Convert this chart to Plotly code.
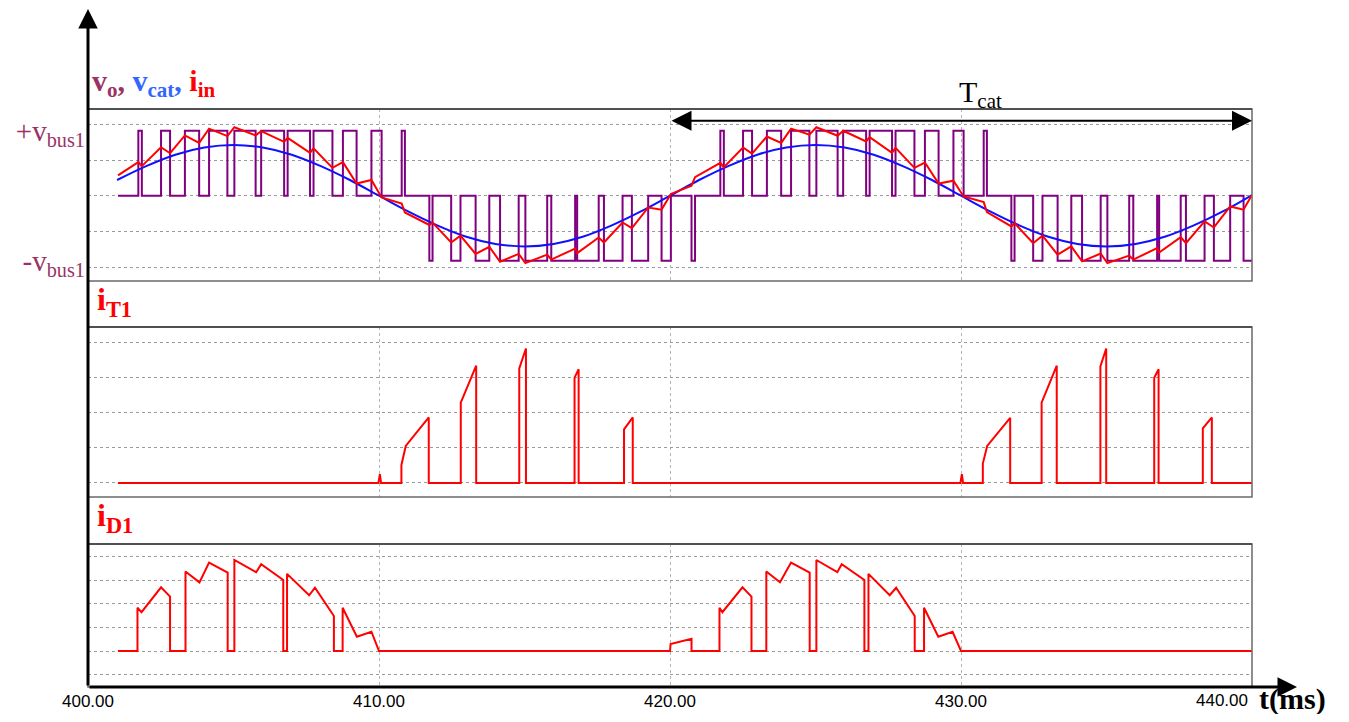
import plotly.graph_objects as go

# ---------------- data ----------------
# switching instants of v_o (ms) and the level after each switch (-1, 0, +1 in units of v_bus1)
vo_t = [401.03,
        401.73, 401.85, 402.51, 402.82, 403.33, 403.82, 404.16, 404.79, 405.03, 405.76,
        405.95, 406.74, 406.86, 407.63, 407.75, 408.40, 408.76, 409.23, 409.74, 410.09,
        410.78, 410.89,
        411.73, 411.84, 412.48, 412.80, 413.32, 413.79, 414.16, 414.80, 415.03, 415.78,
        415.92, 416.74, 416.81, 417.55, 417.73, 418.37, 418.69, 419.25, 419.71, 420.03,
        420.74, 420.86,
        421.73, 421.85, 422.51, 422.82, 423.33, 423.82, 424.16, 424.79, 425.03, 425.76,
        425.95, 426.74, 426.86, 427.63, 427.75, 428.40, 428.76, 429.23, 429.74, 430.09,
        430.78, 430.89,
        431.73, 431.84, 432.48, 432.80, 433.32, 433.79, 434.16, 434.80, 435.03, 435.78,
        435.92, 436.74, 436.81, 437.55, 437.73, 438.37, 438.69, 439.25, 439.71, 440.00]
vo_state = [0,
            1, 0, 1, 0, 1, 0, 1, 0, 1, 0,
            1, 0, 1, 0, 1, 0, 1, 0, 1, 0,
            1, 0,
            -1, 0, -1, 0, -1, 0, -1, 0, -1, 0,
            -1, 0, -1, 0, -1, 0, -1, 0, -1, 0,
            -1, 0,
            1, 0, 1, 0, 1, 0, 1, 0, 1, 0,
            1, 0, 1, 0, 1, 0, 1, 0, 1, 0,
            1, 0,
            -1, 0, -1, 0, -1, 0, -1, 0, -1, 0,
            -1, 0, -1, 0, -1, 0, -1, 0, -1, -1]
VBUS = 1.82  # +v_bus1 level on the panel-1 grid

# capacitor voltage v_cat (panel 1 grid units)
vcat_t = [401, 402, 403, 404, 405, 406, 407, 408, 409, 410,
          411, 412, 413, 414, 415, 416, 417, 418, 419, 420,
          421, 422, 423, 424, 425, 426, 427, 428, 429, 430,
          431, 432, 433, 434, 435, 436, 437, 438, 439, 440]
vcat = [0.44, 0.83, 1.15, 1.35, 1.42, 1.35, 1.15, 0.83, 0.44, 0.00,
        -0.44, -0.83, -1.15, -1.35, -1.42, -1.35, -1.15, -0.83, -0.44, 0.00,
        0.44, 0.83, 1.15, 1.35, 1.42, 1.35, 1.15, 0.83, 0.44, 0.00,
        -0.44, -0.83, -1.15, -1.35, -1.42, -1.35, -1.15, -0.83, -0.44, 0.02]

# input current i_in (panel 1 grid units)
iin_t = [401.03,
         401.73, 401.85, 402.51, 402.82, 403.33, 403.82, 404.16, 404.79, 405.03, 405.76,
         405.95, 406.74, 406.86, 407.63, 407.75, 408.40, 408.76, 409.23, 409.74, 410.09,
         410.78, 410.89,
         411.73, 411.84, 412.48, 412.80, 413.32, 413.79, 414.16, 414.80, 415.03, 415.78,
         415.92, 416.74, 416.81, 417.55, 417.73, 418.37, 418.69, 419.25, 419.71, 420.03,
         420.74, 420.86,
         421.73, 421.85, 422.51, 422.82, 423.33, 423.82, 424.16, 424.79, 425.03, 425.76,
         425.95, 426.74, 426.86, 427.63, 427.75, 428.40, 428.76, 429.23, 429.74, 430.09,
         430.78, 430.89,
         431.73, 431.84, 432.48, 432.80, 433.32, 433.79, 434.16, 434.80, 435.03, 435.78,
         435.92, 436.74, 436.81, 437.55, 437.73, 438.37, 438.69, 439.25, 439.71, 440.00]
iin = [0.57,
       0.94, 0.83, 1.36, 1.19, 1.69, 1.48, 1.88, 1.67, 1.92, 1.69,
       1.81, 1.51, 1.62, 1.20, 1.33, 0.78, 0.94, 0.34, 0.44, -0.05,
       -0.22, -0.47,
       -0.82, -0.75, -1.31, -1.12, -1.63, -1.43, -1.85, -1.63, -1.89, -1.65,
       -1.79, -1.48, -1.61, -1.17, -1.31, -0.75, -0.91, -0.33, -0.39, 0.05,
       0.28, 0.52,
       0.92, 0.80, 1.35, 1.18, 1.66, 1.48, 1.88, 1.71, 1.92, 1.68,
       1.82, 1.52, 1.64, 1.20, 1.34, 0.78, 0.93, 0.34, 0.42, -0.02,
       -0.18, -0.46,
       -0.86, -0.77, -1.33, -1.12, -1.65, -1.42, -1.84, -1.62, -1.89, -1.68,
       -1.79, -1.47, -1.59, -1.16, -1.33, -0.72, -0.89, -0.30, -0.39, 0.03]

# switch current i_T1 (panel 2 grid units)
iT1_t = [401.03, 409.98, 410.03, 410.07,
         410.77, 410.77, 410.92, 411.71, 411.71,
         412.81, 412.81, 413.34, 413.34,
         414.82, 414.82, 415.05, 415.05,
         416.72, 416.72, 416.86, 416.86,
         418.42, 418.42, 418.72, 418.72,
         429.98, 430.03, 430.07,
         430.75, 430.75, 430.90, 431.69, 431.69,
         432.77, 432.77, 433.29, 433.29,
         434.79, 434.79, 434.99, 434.99,
         436.64, 436.64, 436.79, 436.79,
         438.31, 438.31, 438.62, 438.62,
         440.00]
iT1 = [0, 0, 0.25, 0,
       0, 0.51, 1.05, 1.86, 0,
       0, 2.28, 3.33, 0,
       0, 3.25, 3.82, 0,
       0, 2.99, 3.23, 0,
       0, 1.52, 1.86, 0,
       0, 0.25, 0,
       0, 0.55, 1.05, 1.85, 0,
       0, 2.28, 3.33, 0,
       0, 3.31, 3.82, 0,
       0, 2.99, 3.23, 0,
       0, 1.55, 1.86, 0,
       0]

# diode current i_D1 (panel 3 grid units)
iD1_t = [401.03, 401.70, 401.70, 401.84, 402.51, 402.82, 402.82,
         403.35, 403.35, 403.83, 404.16, 404.80, 404.80,
         405.03, 405.03, 405.78, 405.95, 406.71, 406.71,
         406.84, 406.84, 407.60, 407.80, 408.45, 408.45,
         408.75, 408.75, 409.24, 409.74, 410.00,
         420.00, 420.02, 420.74, 420.74,
         421.70, 421.70, 421.80, 422.49, 422.80, 422.80,
         423.31, 423.31, 423.78, 424.16, 424.80, 424.80,
         425.03, 425.03, 425.75, 425.90, 426.68, 426.68,
         426.82, 426.82, 427.55, 427.77, 428.41, 428.41,
         428.73, 428.73, 429.22, 429.71, 430.00,
         440.00]
iD1 = [0, 0, 1.84, 1.65, 2.71, 2.31, 0,
       0, 3.38, 2.92, 3.76, 3.33, 0,
       0, 3.87, 3.35, 3.69, 3.02, 0,
       0, 3.28, 2.37, 2.69, 1.49, 0,
       0, 1.84, 0.61, 0.82, 0,
       0, 0.30, 0.52, 0,
       0, 1.84, 1.65, 2.71, 2.31, 0,
       0, 3.38, 2.92, 3.76, 3.33, 0,
       0, 3.87, 3.35, 3.69, 3.02, 0,
       0, 3.28, 2.37, 2.69, 1.49, 0,
       0, 1.84, 0.61, 0.82, 0,
       0]

x_ticks = [400, 410, 420, 430]
x_ticklabels = ["400.00", "410.00", "420.00", "430.00"]
last_tick = 440
last_ticklabel = "440.00"

# ---------------- figure ----------------
# the page body has an 8 px margin, so the figure is drawn 8 px in from the window corner
OFF = 8
W, H = 1349 - 2 * OFF, 722 - 2 * OFF
AX_LEFT, AX_RIGHT, AX_BOTTOM, AX_TOP = 88, 1252, 687, 10   # window pixels of the plot area
ML = AX_LEFT - OFF
MR = W - (AX_RIGHT - OFF)
MT = AX_TOP - OFF
MB = H - (AX_BOTTOM - OFF)
PH = H - MT - MB
PW = W - ML - MR


def py(p):
    """window pixel row -> paper y"""
    return (AX_BOTTOM - p) / PH


def px(p):
    """window pixel column -> paper x"""
    return (p - AX_LEFT) / PW


PURPLE = "#800080"
BLUE = "#1010ff"
RED = "#ff0000"
LABEL = "#993366"
SERIF = "Liberation Serif, Times New Roman, serif"
SANS = "Liberation Sans, Arial, sans-serif"

fig = go.Figure()
fig.add_trace(go.Scatter(x=vo_t, y=[s * VBUS for s in vo_state], mode="lines",
                         line=dict(color=PURPLE, width=2, shape="hv"), yaxis="y"))
fig.add_trace(go.Scatter(x=vcat_t, y=vcat, mode="lines",
                         line=dict(color=BLUE, width=2, shape="spline", smoothing=1.0), yaxis="y"))
fig.add_trace(go.Scatter(x=iin_t, y=iin, mode="lines",
                         line=dict(color=RED, width=2), yaxis="y"))
fig.add_trace(go.Scatter(x=iT1_t, y=iT1, mode="lines",
                         line=dict(color=RED, width=2), yaxis="y2"))
fig.add_trace(go.Scatter(x=iD1_t, y=iD1, mode="lines",
                         line=dict(color=RED, width=2), yaxis="y3"))

grid = dict(showgrid=True, gridcolor="#9a9a9a", griddash="dot", gridwidth=1, zeroline=False)

fig.update_layout(
    width=W, height=H,
    margin=dict(l=ML, r=MR, t=MT, b=MB, autoexpand=False),
    paper_bgcolor="white", plot_bgcolor="white",
    showlegend=False,
    xaxis=dict(range=[400, 440], anchor="y3", tickvals=x_ticks, ticktext=x_ticklabels,
               showgrid=True, gridcolor="#b5b5b5", griddash="dot", gridwidth=1,
               zeroline=False, showline=False, ticks="", automargin=False,
               ticklabelstandoff=2,
               tickfont=dict(family=SANS, size=17, color="black")),
    yaxis=dict(domain=[py(281), py(109)], range=[-2.39, 2.43], anchor="x",
               tickvals=[VBUS, -VBUS],
               ticktext=["+v<sub>bus1</sub>", "-v<sub>bus1</sub>"],
               tickfont=dict(family=SERIF, size=29, color=LABEL),
               showgrid=False, zeroline=False, ticks="", automargin=False,
               ticklabelstandoff=2,
               minor=dict(tick0=0, dtick=1, showgrid=True, gridcolor="#9a9a9a",
                          griddash="dot", gridwidth=1, ticks="")),
    yaxis2=dict(domain=[py(497), py(327)], range=[-0.40, 4.43], anchor="x",
                tick0=0, dtick=1, showticklabels=False, ticks="", automargin=False, **grid),
    yaxis3=dict(domain=[0, py(544)], range=[-1.53, 4.55], anchor="x",
                tick0=0, dtick=1, showticklabels=False, ticks="", automargin=False, **grid),
)

# panel frames
for yr in ["y domain", "y2 domain", "y3 domain"]:
    fig.add_shape(type="rect", xref="x domain", yref=yr, x0=0, x1=1, y0=0, y1=1,
                  line=dict(color="#6a6a6a", width=1.5), layer="above")
    fig.add_shape(type="line", xref="x domain", yref=yr, x0=0, x1=1, y0=1, y1=1,
                  line=dict(color="#505050", width=2), layer="above")

ann = []
# main axes with arrow heads
ann.append(dict(xref="paper", yref="paper", x=px(1297), y=0,
                ax=-(1297 - AX_LEFT), ay=0, axref="pixel", ayref="pixel", text="",
                showarrow=True, arrowhead=2, arrowsize=1.3, arrowwidth=3, arrowcolor="black"))
ann.append(dict(xref="paper", yref="paper", x=0, y=py(9),
                ax=0, ay=AX_BOTTOM - 9, axref="pixel", ayref="pixel", text="",
                showarrow=True, arrowhead=2, arrowsize=1.3, arrowwidth=3, arrowcolor="black"))
# last tick label (shifted left of the arrow)
ann.append(dict(xref="x", yref="paper", x=last_tick, y=0, yanchor="top", xanchor="center",
                xshift=-30, yshift=-2, text=last_ticklabel, showarrow=False,
                font=dict(family=SANS, size=17, color="black")))
# axis name
ann.append(dict(xref="paper", yref="paper", x=px(1292), y=py(699),
                xanchor="center", yanchor="middle", text="<b>t(ms)</b>", showarrow=False,
                font=dict(family=SERIF, size=30, color="black")))
# panel titles
ann.append(dict(xref="paper", yref="paper", x=px(90), y=py(104), xanchor="left", yanchor="bottom",
                showarrow=False, font=dict(family=SERIF, size=30),
                text=("<b><span style='color:%s'>v<sub>o</sub>,</span> "
                      "<span style='color:#3366ff'>v<sub>cat</sub>,</span> "
                      "<span style='color:%s'>i<sub>in</sub></span></b>") % (LABEL, RED)))
ann.append(dict(xref="paper", yref="paper", x=px(95), y=py(324), xanchor="left", yanchor="bottom",
                showarrow=False, font=dict(family=SERIF, size=32, color=RED),
                text="<b>i<sub>T1</sub></b>"))
ann.append(dict(xref="paper", yref="paper", x=px(95), y=py(540), xanchor="left", yanchor="bottom",
                showarrow=False, font=dict(family=SERIF, size=32, color=RED),
                text="<b>i<sub>D1</sub></b>"))
# T_cat period arrow
ann.append(dict(xref="x", yref="y", x=440, y=2.1, axref="x", ayref="y", ax=420, ay=2.1,
                text="", showarrow=True, arrowside="end+start", arrowhead=2, startarrowhead=2,
                arrowsize=2, startarrowsize=2, arrowwidth=2, arrowcolor="black"))
ann.append(dict(xref="x", yref="paper", x=430, y=py(115), xanchor="left", yanchor="bottom",
                xshift=-4, showarrow=False, font=dict(family=SERIF, size=30, color="black"),
                text="T<sub>cat</sub>"))
fig.update_layout(annotations=ann)

fig.write_html("out.html")
